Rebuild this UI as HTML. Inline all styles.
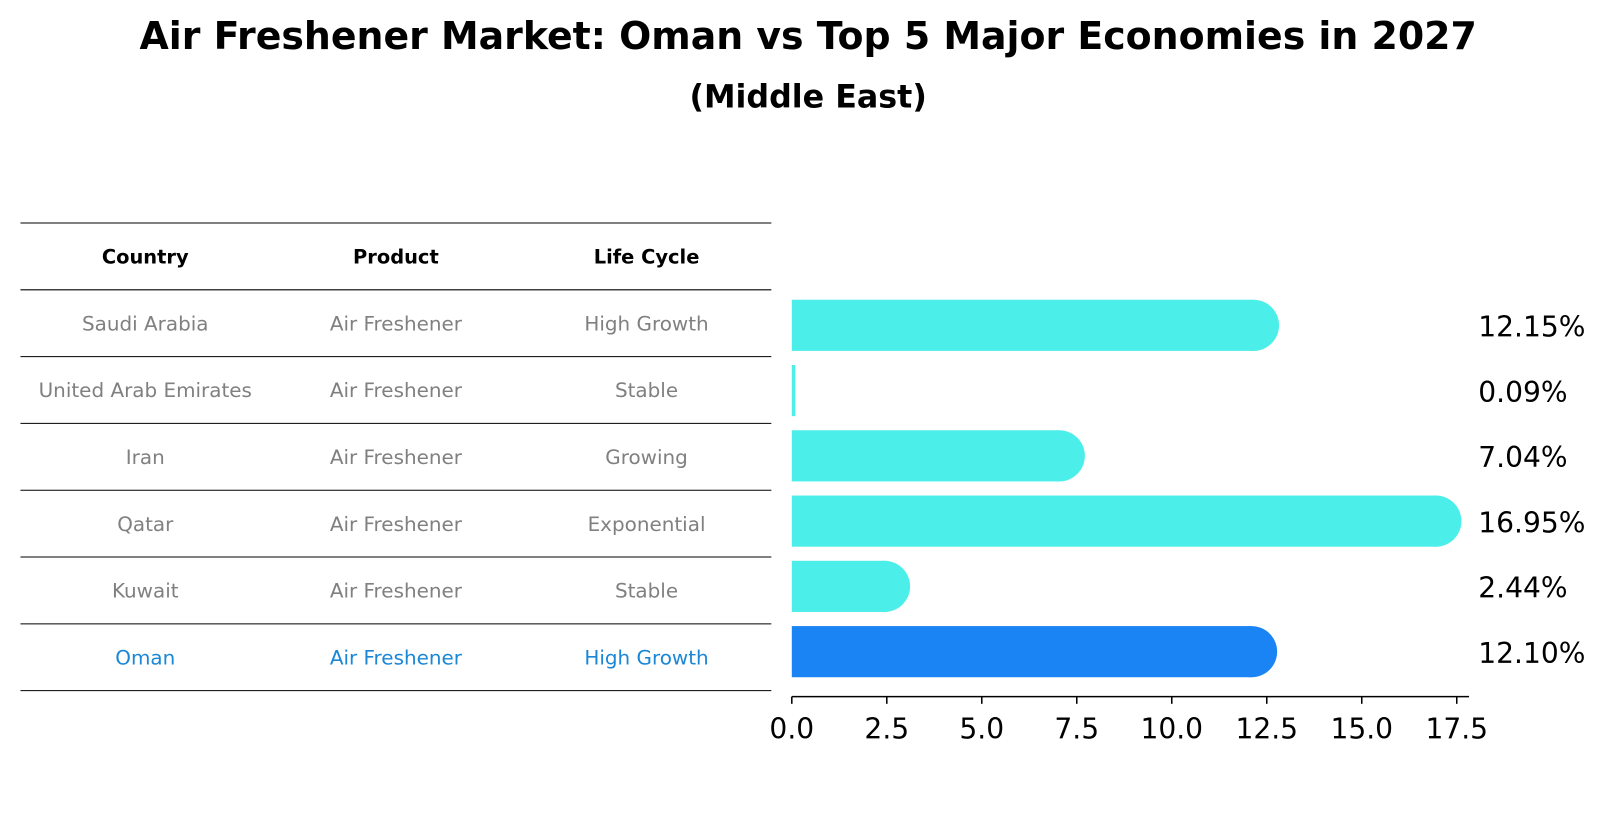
<!DOCTYPE html>
<html><head><meta charset="utf-8"><style>
html,body{margin:0;background:#fff;font-family:"DejaVu Sans","Liberation Sans",sans-serif;overflow:hidden;width:1604px;height:823px;}
#root{position:relative;width:1568px;height:805px;overflow:hidden;transform:scale(1.023);transform-origin:0 0;}
.t{position:absolute;white-space:nowrap;}
</style></head><body>
<div id="root">
<div class="t" style="left:0;width:1580px;text-align:center;top:14px;font-size:37px;font-weight:bold;">Air Freshener Market: Oman vs Top 5 Major Economies in 2027</div>
<div class="t" style="left:0;width:1580px;text-align:center;top:77px;font-size:31px;font-weight:bold;">(Middle East)</div>
<svg id="svg" width="1568" height="805" style="position:absolute;left:0;top:0"></svg>
</div>
<script>
const countries=["Saudi Arabia","United Arab Emirates","Iran","Qatar","Kuwait","Oman"];
const products=["Air Freshener","Air Freshener","Air Freshener","Air Freshener","Air Freshener","Air Freshener"];
const lifeCycles=["High Growth","Stable","Growing","Exponential","Stable","High Growth"];
const values=[12.15,0.09,7.04,16.95,2.44,12.10];
const valueLabels=["12.15%","0.09%","7.04%","16.95%","2.44%","12.10%"];
const ticks=[0,2.5,5,7.5,10,12.5,15,17.5];
const tickLabels=["0.0","2.5","5.0","7.5","10.0","12.5","15.0","17.5"];

const svg=document.getElementById('svg');
const NS='http://www.w3.org/2000/svg';
function mk(tag,attrs,text){const e=document.createElementNS(NS,tag);for(const k in attrs)e.setAttribute(k,attrs[k]);if(text!==undefined)e.textContent=text;svg.appendChild(e);return e;}
const x0=774,pxPerUnit=(1424-774)/17.5;
const xs=v=>x0+v*pxPerUnit;
const rowTop=218,rowH=65.3;
const rowY=i=>rowTop+rowH*(i+1)+rowH/2;
const barY=i=>318+i*63.8;

for(let i=0;i<=countries.length+1;i++){
  const y=rowTop+rowH*i;
  const l=mk('line',{x1:20,x2:754,y1:y,y2:y,stroke:'#000','stroke-width':1});
  
  
}
const colX=[142,387,632];
const heads=["Country","Product","Life Cycle"];
heads.forEach((h,j)=>{
  const t=mk('text',{x:colX[j],y:rowTop+rowH/2+7,'text-anchor':'middle','font-size':19,'font-weight':'bold','font-family':'DejaVu Sans, sans-serif'},h);
  
  
});
countries.forEach((c,i)=>{
  const col=i===countries.length-1?'#1a87d6':'#808080';
  [c,products[i],lifeCycles[i]].forEach((s,j)=>{
    const t=mk('text',{x:colX[j],y:rowY(i)+7,'text-anchor':'middle','font-size':19.5,fill:col,'font-family':'DejaVu Sans, sans-serif'},s);
    
    
  });
});

const R=25;
values.forEach((v,i)=>{
  const col=i===values.length-1?'#1a84f4':'#4ceeea';
  const w=xs(v)-x0;
  const cy=barY(i);
  const r=mk('rect',{x:x0,y:cy-R,width:Math.max(w,3),height:2*R,fill:col});
  
  
  if(w>10){
    const c=mk('circle',{cx:xs(v),cy:cy,r:R,fill:col});
    
    
  }
  const t=mk('text',{x:1445,y:cy+11,'font-size':27.5,'font-family':'DejaVu Sans, sans-serif'},valueLabels[i]);
  
  
});

const ax=mk('line',{x1:x0,x2:1436,y1:681,y2:681,stroke:'#000','stroke-width':1.5});


ticks.forEach((v,k)=>{
  const l=mk('line',{x1:xs(v),x2:xs(v),y1:681,y2:688,stroke:'#000','stroke-width':1.5});
  
  
  const t=mk('text',{x:xs(v),y:722,'text-anchor':'middle','font-size':27.5,'font-family':'DejaVu Sans, sans-serif'},tickLabels[k]);
  
  
});
</script>
</body></html>
